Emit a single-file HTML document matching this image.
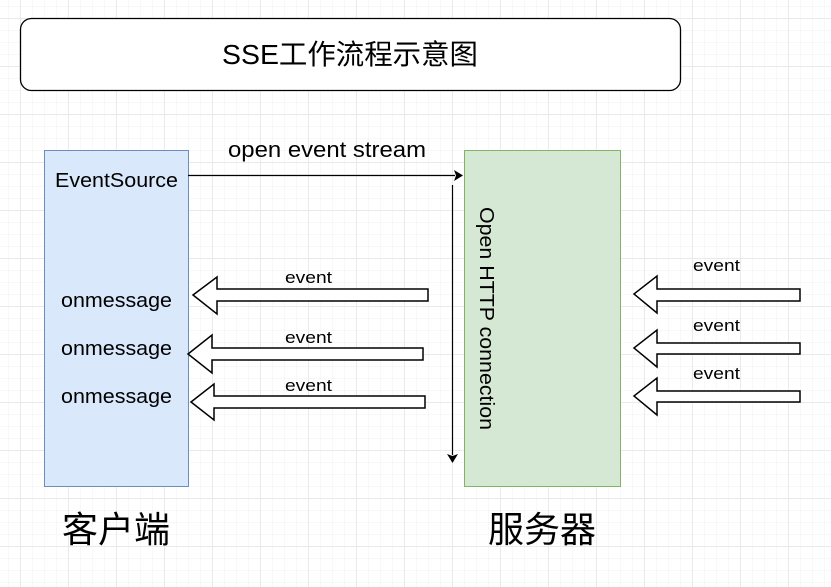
<!DOCTYPE html>
<html><head><meta charset="utf-8"><style>
body{margin:0;width:831px;height:587px;overflow:hidden;background:#fff;}
svg{display:block}
text{font-family:"Liberation Sans","Noto Sans CJK SC",sans-serif;fill:#000}
</style></head><body>
<svg width="831" height="587" viewBox="0 0 831 587">
<defs>
<pattern id="mi" width="12" height="12" patternUnits="userSpaceOnUse" x="8" y="6">
<path d="M0 0H12M0 0V12" stroke="#f2f2f2" stroke-width="1" fill="none"/></pattern>
<pattern id="ma" width="48" height="48" patternUnits="userSpaceOnUse" x="20.5" y="18.5">
<path d="M0 0H48M0 0V48" stroke="#e2e2e2" stroke-width="1" fill="none"/></pattern>
</defs>
<rect width="831" height="587" fill="url(#mi)"/>
<rect width="831" height="587" fill="url(#ma)"/>
<rect x="20.5" y="18.5" width="660" height="72" rx="11" fill="#fff" stroke="#000" stroke-width="1.3"/>
<text x="222" y="64" font-size="28" textLength="256" lengthAdjust="spacingAndGlyphs">SSE工作流程示意图</text>
<rect x="44.5" y="150.5" width="144" height="336" fill="#dae8fc" stroke="#6c8ebf"/>
<rect x="464.5" y="150.5" width="156" height="336" fill="#d5e8d4" stroke="#82b366"/>
<text x="55" y="187" font-size="20" textLength="123" lengthAdjust="spacingAndGlyphs">EventSource</text>
<text x="61" y="307" font-size="20" textLength="111" lengthAdjust="spacingAndGlyphs">onmessage</text>
<text x="61" y="355" font-size="20" textLength="111" lengthAdjust="spacingAndGlyphs">onmessage</text>
<text x="61" y="403" font-size="20" textLength="111" lengthAdjust="spacingAndGlyphs">onmessage</text>
<text x="228" y="157" font-size="22" textLength="198" lengthAdjust="spacingAndGlyphs">open event stream</text>
<line x1="188" y1="175.5" x2="455" y2="175.5" stroke="#000" stroke-width="1.2"/>
<path d="M463 175.5L454 170L456 175.5L454 181Z" fill="#000"/>
<line x1="452.5" y1="185" x2="452.5" y2="455" stroke="#000" stroke-width="1.2"/>
<path d="M452.5 463L447 454L452.5 456L458 454Z" fill="#000"/>
<text transform="translate(480,207) rotate(90)" font-size="20" textLength="223" lengthAdjust="spacingAndGlyphs">Open HTTP connection</text>
<g fill="#fff" stroke="#000" stroke-width="1.5">
<path d="M193 295L217 277V289H428V301H217V314Z"/>
<path d="M188 354L212 335V348H423V360H212V373Z"/>
<path d="M191 402L214 384V396H425V408H214V420Z"/>
<path d="M634 294L657 276V289H800V301H657V313Z"/>
<path d="M634 348L657 330V343H800V354H657V367Z"/>
<path d="M634 396L657 378V391H800V402H657V415Z"/>
</g>
<g font-size="17">
<text x="285" y="283" textLength="47" lengthAdjust="spacingAndGlyphs">event</text>
<text x="285" y="343" textLength="47" lengthAdjust="spacingAndGlyphs">event</text>
<text x="285" y="391" textLength="47" lengthAdjust="spacingAndGlyphs">event</text>
<text x="693" y="271" textLength="47" lengthAdjust="spacingAndGlyphs">event</text>
<text x="693" y="331" textLength="47" lengthAdjust="spacingAndGlyphs">event</text>
<text x="693" y="379" textLength="47" lengthAdjust="spacingAndGlyphs">event</text>
</g>
<text x="62" y="542" font-size="36" textLength="108" lengthAdjust="spacingAndGlyphs">客户端</text>
<text x="488" y="542" font-size="36" textLength="108" lengthAdjust="spacingAndGlyphs">服务器</text>
</svg>
</body></html>
